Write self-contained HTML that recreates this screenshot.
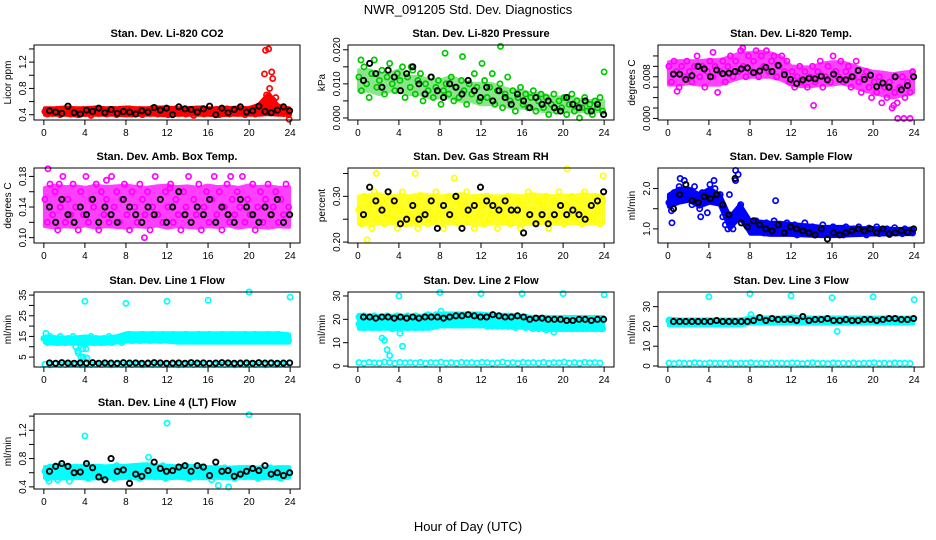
<!DOCTYPE html>
<html><head><meta charset="utf-8"><style>
html,body{margin:0;padding:0;background:#fff;}
svg{display:block;font-family:"Liberation Sans",sans-serif;}
</style></head><body>
<svg id="chart" width="936" height="540" viewBox="0 0 936 540">
<text x="468" y="14" font-size="13" text-anchor="middle">NWR_091205  Std. Dev. Diagnostics</text>
<text x="468" y="531" font-size="13" text-anchor="middle">Hour of Day (UTC)</text>
</svg>
<script>
// ---- data ----
const xTicks = [0,4,8,12,16,20,24];
const co2Main = [0.45,0.41,0.47,0.42,0.44,0.48,0.40,0.46,0.43,0.49,0.41,0.45,0.47,0.40,0.44,0.48,0.42,0.46,0.39,0.45,0.49,0.42,0.44,0.47,0.41,0.46,0.43,0.48,0.40,0.45,0.47,0.42,0.44,0.49,0.41,0.46,0.43,0.48,0.40,0.45,0.47,0.42,0.50,0.44,0.41,0.47,0.43,0.48,0.40,0.46,0.44,0.49,0.42,0.45,0.47,0.41,0.44,0.48,0.39,0.46,0.43,0.49,0.41,0.45,0.47,0.42,0.44,0.48,0.40,0.46,0.43,0.49,0.41,0.45,0.47,0.42,0.44,0.48,0.40,0.46,0.43,0.49,0.41,0.45,0.47,0.50,0.58,0.66,0.55,0.62,0.48,0.52,0.45,0.42,0.47,0.40];
const co2BandLo = [0.40,0.40,0.40,0.39,0.40,0.40,0.40,0.40,0.39,0.40,0.40,0.40,0.39,0.40,0.40,0.40,0.40,0.39,0.40,0.40,0.40,0.40,0.41,0.40,0.40];
const co2BandHi = [0.50,0.50,0.51,0.50,0.50,0.51,0.50,0.50,0.51,0.50,0.50,0.51,0.51,0.50,0.50,0.51,0.50,0.50,0.50,0.51,0.50,0.55,0.72,0.52,0.50];
const co2Black = [0.46,0.44,0.42,0.53,0.43,0.41,0.47,0.45,0.50,0.43,0.48,0.42,0.45,0.44,0.41,0.46,0.44,0.51,0.47,0.50,0.40,0.52,0.49,0.48,0.44,0.49,0.53,0.40,0.50,0.43,0.48,0.52,0.44,0.46,0.53,0.45,0.43,0.47,0.52,0.46];
const co2Out = [[21.6,1.38],[21.9,1.40],[21.5,1.02],[22.2,1.05],[22.3,0.95],[21.7,0.70],[22.0,0.80],[22.4,0.60],[23.9,0.33],[21.8,0.62],[22.6,0.66]];
const co2Ticks = [0.4,0.6,0.8,1.0,1.2,1.4];
const co2Labels = [0.4,0.8,1.2];

const presMain = [0.012,0.008,0.015,0.010,0.006,0.013,0.017,0.009,0.011,0.014,0.007,0.012,0.016,0.010,0.008,0.013,0.011,0.015,0.006,0.012,0.009,0.014,0.007,0.011,0.013,0.005,0.010,0.008,0.012,0.006,0.009,0.011,0.004,0.008,0.010,0.007,0.012,0.005,0.009,0.006,0.011,0.008,0.004,0.010,0.007,0.013,0.009,0.005,0.016,0.011,0.006,0.009,0.013,0.004,0.008,0.010,0.003,0.007,0.012,0.005,0.008,0.002,0.006,0.009,0.004,0.007,0.003,0.006,0.008,0.002,0.005,0.007,0.003,0.006,0.001,0.004,0.007,0.002,0.005,0.003,0.006,0.001,0.004,0.007,0.002,0.005,0.000,0.003,0.006,0.002,0.004,0.001,0.005,0.003,0.006,0.002];
const presBandLo = [0.008,0.008,0.007,0.008,0.008,0.007,0.007,0.006,0.006,0.006,0.005,0.005,0.004,0.004,0.004,0.003,0.003,0.003,0.002,0.002,0.002,0.002,0.002,0.002,0.002];
const presBandHi = [0.014,0.014,0.013,0.013,0.014,0.012,0.012,0.011,0.011,0.012,0.011,0.010,0.010,0.010,0.009,0.008,0.008,0.007,0.007,0.006,0.006,0.006,0.005,0.005,0.005];
const presBlack = [0.011,0.016,0.013,0.009,0.014,0.012,0.008,0.013,0.015,0.010,0.007,0.012,0.008,0.006,0.010,0.009,0.007,0.011,0.008,0.006,0.009,0.005,0.008,0.006,0.004,0.007,0.005,0.003,0.006,0.004,0.005,0.003,0.002,0.006,0.004,0.003,0.005,0.002,0.004,0.001];
const presOut = [[13.9,0.021],[24.0,0.0135],[8.5,0.019],[10.2,0.018],[0.3,0.017],[5.2,0.015]];
const presTicks = [0,0.005,0.010,0.015,0.020];
const presLabels = [0,0.010,0.020];

const tempMain = [0.010,0.007,0.011,0.009,0.006,0.010,0.008,0.011,0.009,0.007,0.010,0.012,0.008,0.010,0.006,0.009,0.011,0.008,0.010,0.005,0.009,0.011,0.007,0.010,0.012,0.008,0.011,0.009,0.013,0.010,0.008,0.012,0.009,0.011,0.013,0.008,0.012,0.010,0.013,0.009,0.011,0.012,0.008,0.010,0.012,0.009,0.011,0.007,0.009,0.006,0.008,0.010,0.007,0.009,0.006,0.008,0.010,0.007,0.009,0.011,0.006,0.008,0.010,0.007,0.012,0.009,0.008,0.011,0.007,0.009,0.010,0.006,0.008,0.011,0.007,0.005,0.008,0.009,0.006,0.004,0.007,0.005,0.008,0.003,0.006,0.004,0.007,0.002,0.005,0.003,0.006,0.008,0.004,0.007,0.005,0.009];
const tempBandLo = [0.0065,0.0065,0.0068,0.0065,0.0065,0.0065,0.0072,0.0078,0.0080,0.0080,0.0080,0.0075,0.0065,0.0062,0.0062,0.0065,0.0065,0.0068,0.0062,0.0055,0.0050,0.0045,0.0040,0.0045,0.0050];
const tempBandHi = [0.0108,0.0110,0.0110,0.0110,0.0112,0.0112,0.0118,0.0125,0.0125,0.0128,0.0125,0.0118,0.0100,0.0098,0.0098,0.0105,0.0108,0.0108,0.0102,0.0095,0.0090,0.0088,0.0085,0.0088,0.0090];
const tempBlack = [0.0085,0.0085,0.0075,0.0082,0.0100,0.0095,0.0080,0.0093,0.0086,0.0087,0.0090,0.0095,0.0097,0.0088,0.0091,0.0098,0.0090,0.0102,0.0084,0.0075,0.0067,0.0074,0.0077,0.0076,0.0081,0.0074,0.0085,0.0075,0.0074,0.0080,0.0092,0.0075,0.0083,0.0061,0.0068,0.0060,0.0080,0.0055,0.0063,0.0080];
const tempOut = [[22.4,0],[23.0,0],[23.6,0],[14.2,0.0025],[0.9,0.0052],[22.0,0.0025],[7.3,0.0135],[4.4,0.0127]];
const tempTicks = [0,0.002,0.004,0.006,0.008,0.010,0.012];
const tempLabels = [0,0.008];

const ambMain = [0.15,0.12,0.17,0.13,0.16,0.11,0.14,0.18,0.12,0.15,0.13,0.17,0.14,0.11,0.16,0.13,0.18,0.12,0.15,0.14,0.17,0.11,0.16,0.13,0.15,0.12,0.18,0.14,0.16,0.12,0.15,0.17,0.13,0.11,0.16,0.14,0.12,0.17,0.15,0.13,0.16,0.11,0.14,0.18,0.13,0.15,0.12,0.16,0.14,0.17,0.12,0.15,0.13,0.11,0.16,0.14,0.18,0.12,0.15,0.13,0.17,0.11,0.14,0.16,0.12,0.15,0.18,0.13,0.16,0.11,0.14,0.17,0.12,0.15,0.13,0.16,0.14,0.18,0.12,0.15,0.13,0.17,0.11,0.14,0.16,0.12,0.15,0.17,0.13,0.14,0.16,0.12,0.15,0.13,0.17,0.14];
const ambBandLo = [0.115,0.113,0.115,0.114,0.116,0.113,0.115,0.114,0.113,0.115,0.114,0.116,0.113,0.115,0.114,0.113,0.115,0.114,0.116,0.113,0.115,0.114,0.113,0.115,0.114];
const ambBandHi = [0.165,0.168,0.166,0.167,0.165,0.168,0.166,0.167,0.168,0.166,0.165,0.167,0.168,0.166,0.167,0.165,0.168,0.166,0.167,0.165,0.168,0.166,0.167,0.165,0.166];
const ambBlack = [0.14,0.12,0.15,0.13,0.12,0.14,0.13,0.15,0.12,0.14,0.13,0.12,0.15,0.14,0.13,0.12,0.14,0.13,0.15,0.12,0.14,0.16,0.13,0.12,0.14,0.13,0.15,0.12,0.14,0.13,0.12,0.15,0.14,0.13,0.12,0.14,0.13,0.15,0.12,0.13];
const ambOut = [[0.4,0.19],[9.8,0.10],[1.5,0.17],[18.2,0.18],[6.1,0.175],[12.3,0.165]];
const ambTicks = [0.10,0.12,0.14,0.16,0.18];
const ambLabels = [0.10,0.14,0.18];

const rhMain = [0.27,0.24,0.30,0.26,0.28,0.23,0.31,0.25,0.27,0.29,0.24,0.26,0.30,0.25,0.28,0.23,0.27,0.31,0.24,0.26,0.29,0.25,0.28,0.23,0.30,0.26,0.27,0.24,0.29,0.25,0.31,0.26,0.28,0.23,0.27,0.30,0.25,0.26,0.29,0.24,0.28,0.26,0.31,0.25,0.27,0.23,0.29,0.26,0.28,0.24,0.30,0.25,0.27,0.29,0.23,0.26,0.28,0.25,0.30,0.24,0.27,0.26,0.29,0.23,0.28,0.25,0.31,0.26,0.27,0.24,0.29,0.25,0.28,0.30,0.23,0.26,0.29,0.25,0.31,0.27,0.24,0.28,0.26,0.30,0.25,0.27,0.29,0.24,0.31,0.26,0.28,0.25,0.30,0.27,0.24,0.29];
const rhBandLo = [0.240,0.238,0.240,0.242,0.240,0.238,0.240,0.242,0.240,0.240,0.242,0.240,0.238,0.240,0.242,0.240,0.238,0.240,0.242,0.240,0.240,0.242,0.240,0.240,0.242];
const rhBandHi = [0.300,0.302,0.305,0.300,0.302,0.300,0.305,0.302,0.300,0.302,0.305,0.300,0.302,0.300,0.300,0.302,0.300,0.305,0.302,0.300,0.302,0.300,0.305,0.302,0.300];
const rhBlack = [0.26,0.32,0.29,0.27,0.31,0.29,0.24,0.25,0.28,0.25,0.26,0.29,0.23,0.28,0.26,0.30,0.23,0.27,0.28,0.32,0.29,0.28,0.27,0.29,0.27,0.27,0.22,0.26,0.24,0.26,0.24,0.26,0.28,0.26,0.27,0.26,0.25,0.28,0.29,0.31];
const rhOut = [[1.8,0.35],[0.9,0.205],[20.4,0.36],[23.9,0.345],[5.6,0.35],[9.4,0.34]];
const rhTicks = [0.20,0.25,0.30,0.35];
const rhLabels = [0.20,0.30];

const flowMain = [1.65,1.45,1.9,1.7,2.05,1.8,2.2,1.75,1.95,1.6,2.05,1.85,1.5,1.9,1.7,1.4,2.1,1.8,2.0,1.7,1.85,1.3,1.1,1.0,1.2,1.0,2.2,2.35,1.6,1.2,1.1,1.05,1.15,0.95,1.2,1.0,1.1,0.9,1.15,1.05,0.95,1.2,1.0,1.1,0.9,1.05,1.15,0.95,1.0,1.1,0.85,1.05,0.95,1.15,0.9,1.0,1.05,0.85,1.0,0.95,1.1,0.9,1.0,0.85,1.05,0.95,0.9,1.0,0.85,1.05,0.95,0.9,1.0,0.88,1.05,0.92,0.97,0.85,1.02,0.9,0.95,1.05,0.88,0.98,0.92,1.0,0.86,0.96,1.03,0.9,0.95,0.88,1.0,0.92,0.97,0.9];
const flowBandLo = [1.55,1.65,1.70,1.55,1.65,1.60,1.00,1.30,0.88,0.88,0.85,0.85,0.85,0.84,0.83,0.82,0.82,0.83,0.84,0.85,0.86,0.86,0.87,0.87,0.87];
const flowBandHi = [1.85,2.00,2.00,1.85,2.00,1.85,1.30,1.60,1.20,1.18,1.15,1.15,1.12,1.10,1.08,1.05,1.05,1.05,1.03,1.02,1.02,1.02,1.00,1.00,1.00];
const flowBlack = [1.5,1.85,2.1,1.7,1.65,1.8,1.75,1.85,1.6,1.35,2.25,1.15,1.05,1.2,1.1,1.0,0.95,1.1,0.9,1.05,1.0,0.95,0.9,0.85,1.0,0.75,0.9,0.85,0.9,0.95,1.0,0.95,1.0,0.9,1.0,0.88,0.9,0.95,0.92,1.0];
const flowOut = [[10.5,1.7],[0.4,1.15],[6.6,2.45],[6.0,1.85],[1.2,2.25],[4.5,2.2],[3.2,1.3]];
const flowTicks = [1.0,1.5,2.0];
const flowLabels = [1.0,2.0];

const l1Main = [14,12,15,13,14,12,15,13,12,14,13,15,10,7,12,5,9,13,15,12,14,13,12,14,13,15,12,14,13,14,12,15,14,16,13,15,14,13,16,14,15,13,16,14,15,13,16,14,15,13,16,14,15,13,14,16,13,15,14,13,16,14,15,13,16,14,15,13,14,16,13,15,14,16,13,15,14,13,16,14,15,13,16,14,15,13,14,16,13,15,14,16,13,15,14,13];
const l1BandLo = [12,11.5,11.5,11.5,11.5,11.5,11.5,12,12.5,12.5,12.5,12.5,12.5,12,12,12,12,12,12,12,12,12,12,12,12];
const l1BandHi = [15,14.5,14.5,14.5,15,14.5,14.5,15,16.5,16.5,16.5,16.5,16.5,16.5,16.5,16.5,16.5,16.5,16.5,16.5,16.5,16.5,16.5,16.5,16];
const l1Low = [1.5,1.2,1.6,1.4,1.3,1.7,1.5,1.2,1.6,1.4,1.5,1.3,1.6,1.2,1.5,1.4,1.7,1.3,1.5,1.2,1.6,1.4,1.5,1.3,1.6,1.5,1.2,1.4,1.7,1.3,1.5,1.2,1.6,1.4,1.5,1.3,1.6,1.2,1.5,1.4,1.7,1.3,1.5,1.2,1.6,1.4,1.5,1.3];
const l1Black = [2.2,2.0,2.3,2.1,2.0,2.2,2.1,2.3,2.0,2.2,2.1,2.0,2.3,2.1,2.2,2.0,2.1,2.3,2.2,2.0,2.1,2.2,2.0,2.3,2.1,2.2,2.0,2.1,2.3,2.2,2.0,2.1,2.2,2.0,2.3,2.1,2.2,2.0,2.1,2.2];
const l1Out = [[4,32],[8,31],[12,32],[16,32.5],[20,36.5],[24,34],[0.2,16.5],[0,14],[3.6,5],[4.2,4.5],[3.3,8],[3.8,9]];
const l1Ticks = [5,10,15,20,25,30,35];
const l1Labels = [5,15,25,35];

const l2Main = [21,20.5,21.5,21,20.5,21,21.5,20.5,21,20.5,21,21.5,21,20.5,21,21.5,21,20.5,21,21.5,20.5,21,21.5,21,20.5,21,21.5,22,21.5,21,22,21.5,21,21.5,22,21.5,21,21.5,22,21.5,21,21.5,21,20.5,21,21.5,21,20.5,21,21.5,21,20.5,21,21.5,21,20.5,21,20.5,20,20.5,21,20,20.5,20,20.5,21,20,20.5,20,20.5,20,19.5,20,20.5,19.5,20,20.5,20,19.5,20,20.5,20,19.5,20,20.5,20,19.5,20,20.5,20,19.5,20,20.5,20,19.5,20];
const l2Mid = [18,17,16.5,17.5,17,16.5,17.5,17,16.5,12,11,7,4.5,16,17,16.5,14,8.5,17,16.5,17.5,17,16.5,17,17.5,16.5,17,17.5,17,17,18,17.5,18,17.5,18,18.5,18,17.5,18,17.5,18,17.5,18,18.5,18,17.5,18,17.5,18,17.5,17,17.5,17,17.5,17,17.5,17,17.5,17,17.5,17,16.5,17.5,17,17,16.5,17,16.5,16,16.5,16,16.5,16,15.5,16,16.5,14.5,16,16.5,16,16.5,16,16.5,16,16.5,16,16.5,16,16.5,16,16.5,16,16,16.5,16,16];
const l2BandLo = [16,16,16,16,16,16,16,16,17,17,17,17,17,17,17,16.5,16.5,16.5,16,15.5,15.5,15.5,15.5,15.5,15.5];
const l2BandHi = [22,21.5,21.5,21.5,21.5,21.5,21.5,21.5,22.5,22.5,22.5,22.5,22.5,22,22,22,21.5,21,21,21,21,21,21,21,21];
const l2Low = [1.5,1.2,1.6,1.4,1.3,1.7,1.5,1.2,1.6,1.4,1.5,1.3,1.6,1.2,1.5,1.4,1.7,1.3,1.5,1.2,1.6,1.4,1.5,1.3,1.6,1.5,1.2,1.4,1.7,1.3,1.5,1.2,1.6,1.4,1.5,1.3,1.6,1.2,1.5,1.4,1.7,1.3,1.5,1.2,1.6,1.4,1.5,1.3];
const l2Black = [21,21,20.5,21,21,20.5,21,20.5,21,20.5,21,21,21,20.5,21,21.5,21.5,22,21.5,21,21,22,21.5,21,21,21.5,21,20,20.5,20.5,20,20,20,19.5,19.5,20,20,19.5,20,20];
const l2Out = [[4,30],[8,31.5],[12,31],[16,31],[20,31],[24,30.5],[8.1,23.5]];
const l2Ticks = [0,10,20,30];
const l2Labels = [0,10,20,30];

const l3Main = [23,21.5,22.5,22,21.5,22.5,22,21.5,22,22.5,21.5,22,22.5,21.5,22,23,22.5,21.5,22,22.5,21.5,22,22.5,21.5,22,22.5,21.5,22,22.5,21.5,22,23,24,23,22.5,23,22.5,23.5,23,22.5,23,22.5,23,22.5,23,22.5,24,23,22.5,23,22.5,23,22.5,23,22.5,23,22.5,23,22.5,23,22.5,23,23,22.5,23,22.5,23,22.5,23,22.5,23,22.5,23,22.5,23,22.5,23,22.5,23,23.5,23,22.5,23,23.5,23,22.5,23,23.5,23,22.5,23,23.5,23,22.5,23,23.5];
const l3BandLo = [20.5,20.5,20.5,20.5,20.5,20.5,20.5,20.5,21.5,21.5,21.5,21.5,21.5,21.5,21.5,21.5,21.5,21.5,21.5,21.5,21.5,21.5,21.5,21.5,21.5];
const l3BandHi = [24,23.5,23.5,23.5,23.5,23.5,23.5,23.5,24.5,24.5,24.5,24.5,25,24.5,24.5,24.5,24.5,24.5,24.5,24.5,24.5,24.5,24.5,24.5,24.5];
const l3Low = [1.5,1.2,1.6,1.4,1.3,1.7,1.5,1.2,1.6,1.4,1.5,1.3,1.6,1.2,1.5,1.4,1.7,1.3,1.5,1.2,1.6,1.4,1.5,1.3,1.6,1.5,1.2,1.4,1.7,1.3,1.5,1.2,1.6,1.4,1.5,1.3,1.6,1.2,1.5,1.4,1.7,1.3,1.5,1.2,1.6,1.4,1.5,1.3];
const l3Black = [22.5,22.5,22.5,22.5,22.5,22.5,22.5,23,22.5,22.5,22.5,22.5,22.5,23,24.5,23,24,23.5,23.5,23.5,23,25,23,23.5,23.5,24,23,23,23.5,23,23,23.5,23.5,23,23.5,24,24,23.5,23.5,24];
const l3Out = [[4,35],[8,36.5],[12,35.5],[16,34.5],[20,35],[24,33.5],[16.5,17.5],[8.1,26]];
const l3Ticks = [0,10,20,30];
const l3Labels = [0,10,20,30];

const l4Main = [0.62,0.52,0.68,0.58,0.64,0.50,0.70,0.56,0.62,0.66,0.54,0.60,0.68,0.55,0.63,0.58,0.70,0.52,0.65,0.60,0.56,0.68,0.62,0.54,0.66,0.58,0.64,0.52,0.70,0.60,0.56,0.66,0.62,0.54,0.68,0.58,0.64,0.52,0.70,0.60,0.62,0.56,0.68,0.54,0.64,0.60,0.70,0.52,0.66,0.58,0.62,0.55,0.68,0.60,0.56,0.64,0.52,0.66,0.58,0.62,0.54,0.68,0.60,0.56,0.64,0.50,0.66,0.58,0.62,0.54,0.67,0.60,0.56,0.64,0.52,0.65,0.58,0.62,0.54,0.66,0.60,0.56,0.64,0.52,0.66,0.58,0.62,0.54,0.67,0.60,0.56,0.64,0.52,0.65,0.58,0.62];
const l4BandLo = [0.53,0.52,0.52,0.53,0.52,0.52,0.53,0.52,0.53,0.52,0.53,0.53,0.52,0.53,0.52,0.53,0.52,0.53,0.52,0.53,0.53,0.52,0.53,0.52,0.53];
const l4BandHi = [0.68,0.70,0.70,0.69,0.70,0.70,0.69,0.70,0.70,0.71,0.72,0.70,0.70,0.69,0.70,0.69,0.68,0.68,0.67,0.68,0.68,0.67,0.67,0.68,0.68];
const l4Black = [0.62,0.69,0.73,0.69,0.60,0.61,0.73,0.67,0.54,0.50,0.80,0.62,0.64,0.45,0.58,0.55,0.63,0.75,0.66,0.62,0.63,0.68,0.70,0.62,0.70,0.68,0.56,0.75,0.62,0.63,0.55,0.58,0.62,0.66,0.63,0.70,0.58,0.60,0.56,0.60];
const l4Out = [[4,1.12],[12,1.3],[20,1.42],[0.5,0.48],[17,0.42],[18,0.40],[10.2,0.82],[2.5,0.48]];
const l4Ticks = [0.4,0.6,0.8,1.0,1.2,1.4];
const l4Labels = [0.4,0.8,1.2];

// ---- layout ----
const colLeft = [34,348,658], boxW = 266;
const rowTop = [45,168,292,414], boxH = 75;
const panels = [
 {name:'co2',title:'Stan. Dev. Li-820 CO2',ylab:'Licor ppm',c:0,r:0,ymin:0.32,ymax:1.46,color:'#ff0000',op:1,series:[co2Main],bands:[[co2BandLo,co2BandHi]],black:co2Black,out:co2Out,ticks:co2Ticks,labels:co2Labels,dec:1},
 {name:'pressure',title:'Stan. Dev. Li-820 Pressure',ylab:'kPa',c:1,r:0,ymin:-0.0006,ymax:0.0214,color:'#00c800',op:0.45,series:[presMain],bands:[[presBandLo,presBandHi]],black:presBlack,out:presOut,ticks:presTicks,labels:presLabels,dec:3},
 {name:'temp',title:'Stan. Dev. Li-820 Temp.',ylab:'degrees C',c:2,r:0,ymin:-0.0003,ymax:0.0141,color:'#ff00ff',op:0.75,series:[tempMain],bands:[[tempBandLo,tempBandHi]],black:tempBlack,out:tempOut,ticks:tempTicks,labels:tempLabels,dec:3},
 {name:'ambbox',title:'Stan. Dev. Amb. Box Temp.',ylab:'degrees C',c:0,r:1,ymin:0.093,ymax:0.191,color:'#ff00ff',op:0.75,series:[ambMain],bands:[[ambBandLo,ambBandHi]],black:ambBlack,out:ambOut,ticks:ambTicks,labels:ambLabels,dec:2},
 {name:'rh',title:'Stan. Dev. Gas Stream RH',ylab:'percent',c:1,r:1,ymin:0.198,ymax:0.362,color:'#ffff00',op:0.85,series:[rhMain],bands:[[rhBandLo,rhBandHi]],black:rhBlack,out:rhOut,ticks:rhTicks,labels:rhLabels,dec:2},
 {name:'sampleflow',title:'Stan. Dev. Sample Flow',ylab:'ml/min',c:2,r:1,ymin:0.65,ymax:2.51,color:'#0000ff',op:1,series:[flowMain],bands:[[flowBandLo,flowBandHi]],black:flowBlack,out:flowOut,ticks:flowTicks,labels:flowLabels,dec:1},
 {name:'line1',title:'Stan. Dev. Line 1 Flow',ylab:'ml/min',c:0,r:2,ymin:0.2,ymax:36.5,color:'#00ffff',op:1,series:[l1Main,l1Low],bands:[[l1BandLo,l1BandHi]],black:l1Black,out:l1Out,ticks:l1Ticks,labels:l1Labels,dec:0},
 {name:'line2',title:'Stan. Dev. Line 2 Flow',ylab:'ml/min',c:1,r:2,ymin:-0.4,ymax:31.7,color:'#00ffff',op:1,series:[l2Main,l2Mid,l2Low],bands:[[l2BandLo,l2BandHi]],black:l2Black,out:l2Out,ticks:l2Ticks,labels:l2Labels,dec:0},
 {name:'line3',title:'Stan. Dev. Line 3 Flow',ylab:'ml/min',c:2,r:2,ymin:-0.5,ymax:37.4,color:'#00ffff',op:1,series:[l3Main,l3Low],bands:[[l3BandLo,l3BandHi]],black:l3Black,out:l3Out,ticks:l3Ticks,labels:l3Labels,dec:0},
 {name:'line4',title:'Stan. Dev. Line 4 (LT) Flow',ylab:'ml/min',c:0,r:3,ymin:0.37,ymax:1.43,color:'#00ffff',op:1,series:[l4Main],bands:[[l4BandLo,l4BandHi]],black:l4Black,out:l4Out,ticks:l4Ticks,labels:l4Labels,dec:1}
];
const NS='http://www.w3.org/2000/svg';
const svg=document.getElementById('chart');
function mk(tag,attrs,parent){const e=document.createElementNS(NS,tag);for(const k in attrs)e.setAttribute(k,attrs[k]);(parent||svg).appendChild(e);return e;}
panels.forEach(p=>{
  const L=colLeft[p.c], T=rowTop[p.r];
  const g=mk('g',{});
  
  
  const xs=v=>L+boxW*(v+0.96)/25.92;
  const ys=v=>T+boxH*(p.ymax-v)/(p.ymax-p.ymin);
  const title=mk('text',{x:L+boxW/2,y:T-8,'font-size':11,'font-weight':'bold','text-anchor':'middle'},g);
  title.textContent=p.title;
  
  
  const yl=mk('text',{x:0,y:0,'font-size':10,'text-anchor':'middle',transform:`translate(${L-23},${T+boxH/2}) rotate(-90)`},g);
  yl.textContent=p.ylab;
  
  
  // dense point clouds (envelopes)
  p.bands.forEach(b=>{
    const lo=b[0], hi=b[1], n=lo.length, st=23.8/(n-1);
    let d='';
    hi.forEach((v,i)=>{d+=(i?'L':'M')+xs(0.1+i*st).toFixed(1)+','+ys(v).toFixed(1);});
    for(let i=n-1;i>=0;i--){d+='L'+xs(0.1+i*st).toFixed(1)+','+ys(lo[i]).toFixed(1);}
    d+='Z';
    const band=mk('path',{d:d,fill:p.color,stroke:p.color,'stroke-width':4,'stroke-linejoin':'round',opacity:p.op},g);
    
    
  });
  // points
  const pts=mk('g',{fill:'none','stroke-width':1.7},g);
  
  
  p.series.forEach(arr=>{
    const step=24/arr.length;
    arr.forEach((v,i)=>{
      const c=mk('circle',{cx:xs(0.1+i*step),cy:ys(v),r:2.6,stroke:p.color},pts);
      
      
    });
  });
  p.out.forEach(o=>{
    const c=mk('circle',{cx:xs(o[0]),cy:ys(o[1]),r:2.6,stroke:p.color},pts);
    
    
  });
  const bstep=23.4/(p.black.length-1);
  p.black.forEach((v,i)=>{
    const c=mk('circle',{cx:xs(0.55+i*bstep),cy:ys(v),r:2.6,stroke:'#000','stroke-width':1.9},pts);
    
    
  });
  // box
  const box=mk('rect',{x:L,y:T,width:boxW,height:boxH,fill:'none',stroke:'#000','stroke-width':1},g);
  
  
  // x axis
  mk('line',{x1:xs(0),x2:xs(24),y1:T+boxH,y2:T+boxH,stroke:'#000'},g);
  xTicks.forEach(t=>{
    mk('line',{x1:xs(t),x2:xs(t),y1:T+boxH,y2:T+boxH+5,stroke:'#000'},g);
    const tx=mk('text',{x:xs(t),y:T+boxH+16,'font-size':10,'text-anchor':'middle'},g);
    tx.textContent=t;
    
    
  });
  // y axis
  mk('line',{x1:L,x2:L,y1:ys(p.ticks[0]),y2:ys(p.ticks[p.ticks.length-1])},g).setAttribute('stroke','#000');
  p.ticks.forEach(t=>{mk('line',{x1:L-5,x2:L,y1:ys(t),y2:ys(t),stroke:'#000'},g);});
  p.labels.forEach(t=>{
    const tx=mk('text',{x:0,y:0,'font-size':10,'text-anchor':'middle',transform:`translate(${L-8},${ys(t)}) rotate(-90)`},g);
    tx.textContent=t.toFixed(p.dec);
    
    
  });
});
</script>
</body></html>
